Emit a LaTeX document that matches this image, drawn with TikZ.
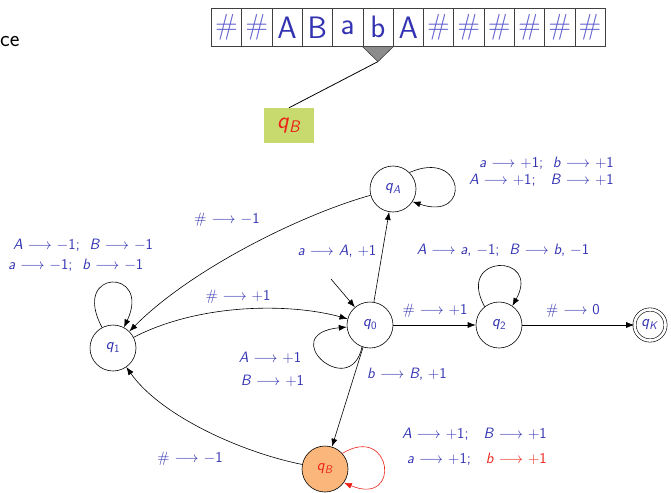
\RequirePackage{fix-cm}
\documentclass[tikz,border=0pt]{standalone}
\usetikzlibrary{arrows.meta,calc}
\definecolor{tblue}{RGB}{51,51,178}
\definecolor{hblue}{RGB}{95,95,205}
\definecolor{tred}{RGB}{235,35,25}
\definecolor{qorange}{RGB}{251,183,123}
\definecolor{qgreen}{RGB}{200,218,110}
\newcommand\ar{\ensuremath{\longrightarrow}}
\newcommand\mn{\ensuremath{-}}
\newcommand\qq[1]{\textsl{q}\textsubscript{#1}}
\begin{document}
\begin{tikzpicture}[x=1pt,y=-1pt,
  state/.style={circle,draw,line width=0.6pt,minimum size=46pt,inner sep=0pt,text=tblue,font=\fontsize{16}{18}\sffamily},
  lab/.style={text=tblue,font=\fontsize{15}{17}\sffamily,inner sep=0pt},
  tr/.style={-{Latex[length=8pt,width=6pt]},line width=0.6pt},
  cell/.style={draw=black!75,line width=0.6pt,minimum width=30.3pt,minimum height=38pt,inner sep=0pt,anchor=north west,text=tblue,font=\fontsize{31}{33}\sffamily},
  hcell/.style={cell,text=hblue,font=\fontsize{29}{31}\sffamily}]
\useasboundingbox (0,0) rectangle (671,492);

% cut-off text
\node[anchor=base west,inner sep=0pt,font=\fontsize{23}{25}\sffamily] (ce) at (0,47) {ce};

% tape
\node[hcell] (t0) at (211,8) {\#};
\node[hcell] (t1) at (241.3,8) {\#};
\node[cell] (t2) at (271.6,8) {A};
\node[cell] (t3) at (301.9,8) {B};
\node[cell] (t4) at (332.2,8) {a};
\node[cell] (t5) at (362.5,8) {b};
\node[cell] (t6) at (392.8,8) {A};
\node[hcell] (t7) at (423.1,8) {\#};
\node[hcell] (t8) at (453.4,8) {\#};
\node[hcell] (t9) at (483.7,8) {\#};
\node[hcell] (t10) at (514,8) {\#};
\node[hcell] (t11) at (544.3,8) {\#};
\node[hcell] (t12) at (574.6,8) {\#};

% head
\coordinate (head) at ($(t5.south)+(0,15)$);
\filldraw[fill=black!45,draw=black!75,line width=0.6pt] (t5.south west) -- (t5.south east) -- (head) -- cycle;
\node[fill=qgreen,minimum width=50pt,minimum height=35pt,inner sep=0pt,text=tred,font=\fontsize{24}{26}\sffamily] (qbox) at (289,125.5) {\qq{\textsl{B}}};
\draw[line width=0.8pt] (head) -- (qbox.north);

% states
\node[state] (qA) at (393,189) {\qq{\textsl{A}}};
\node[state] (q0) at (370,325) {\qq{0}};
\node[state] (q2) at (499,325) {\qq{2}};
\node[state,double,double distance=2.6pt,minimum size=31pt] (qK) at (650,325) {\qq{\textsl{K}}};
\node[state] (q1) at (113,348) {\qq{1}};
\node[state,fill=qorange,text=tred] (qB) at (325,469) {\qq{\textsl{B}}};

% transitions
\coordinate (init) at (331,279);
\draw[tr] (init) -- (q0);
\draw[tr] (q0) -- (qA);
\draw[tr] (qA.45) .. controls (465,148) and (472,222) .. (qA.-33);
\draw[tr] (qA) .. controls (300,215) and (190,270) .. (q1);
\draw[tr] (q1) .. controls (200,303) and (290,303) .. (q0);
\draw[tr] (q1.118) .. controls (70,268) and (152,268) .. (q1.62);
\draw[tr] (q0.-110) .. controls (350,402) and (275,334) .. (q0.185);
\draw[tr] (q0) -- (q2);
\draw[tr] (q2.128) .. controls (455,253) and (542,253) .. (q2.55);
\draw[tr] (q2) -- (qK);
\draw[tr] (q0) -- (qB);
\draw[tr] (qB) .. controls (240,452) and (160,415) .. (q1);
\draw[tr,draw=tred,-{Latex[length=8pt,width=6pt,fill=tred]}] (qB.42) .. controls (392,423) and (402,507) .. (qB.-36);

% labels
\node[lab] (l1) at (337,251) {\textsl{a} \ar{} \textsl{A}, +1};
\node[lab,align=right,anchor=east] (l2) at (614,171.5) {\textsl{a} \ar{} +1;\ \ \textsl{b} \ar{} +1\\ \textsl{A} \ar{} +1;\quad \textsl{B} \ar{} +1};
\node[lab] (l3) at (227,220) {\# \ar{} \mn1};
\node[lab,align=left,anchor=west,font=\fontsize{15}{20}\sffamily] (l4) at (8,255) {\ \textsl{A} \ar{} \mn1;\ \ \textsl{B} \ar{} \mn1\\ \textsl{a} \ar{} \mn1;\ \ \textsl{b} \ar{} \mn1};
\node[lab] (l5) at (238,297) {\# \ar{} +1};
\node[lab,align=center,font=\fontsize{15}{23}\sffamily] (l6) at (270,369) {\textsl{A} \ar{} +1\\ \ \textsl{B} \ar{} +1};
\node[lab] (l7) at (407,374) {\textsl{b} \ar{} \textsl{B}, +1};
\node[lab] (l8) at (503,250) {\textsl{A} \ar{} \textsl{a}, \mn1;\ \ \textsl{B} \ar{} \textsl{b}, \mn1};
\node[lab] (l9) at (435,311) {\# \ar{} +1};
\node[lab] (l10) at (573,311) {\# \ar{} 0};
\node[lab] (l11) at (190,459) {\# \ar{} \mn1};
\node[lab,align=right,anchor=east,font=\fontsize{15}{25}\sffamily] (l12) at (547,446.5) {\textsl{A} \ar{} +1;\quad \textsl{B} \ar{} +1\\ \textsl{a} \ar{} +1;\quad \textcolor{tred}{\textsl{b} \ar{} +1}};
\end{tikzpicture}
\end{document}
